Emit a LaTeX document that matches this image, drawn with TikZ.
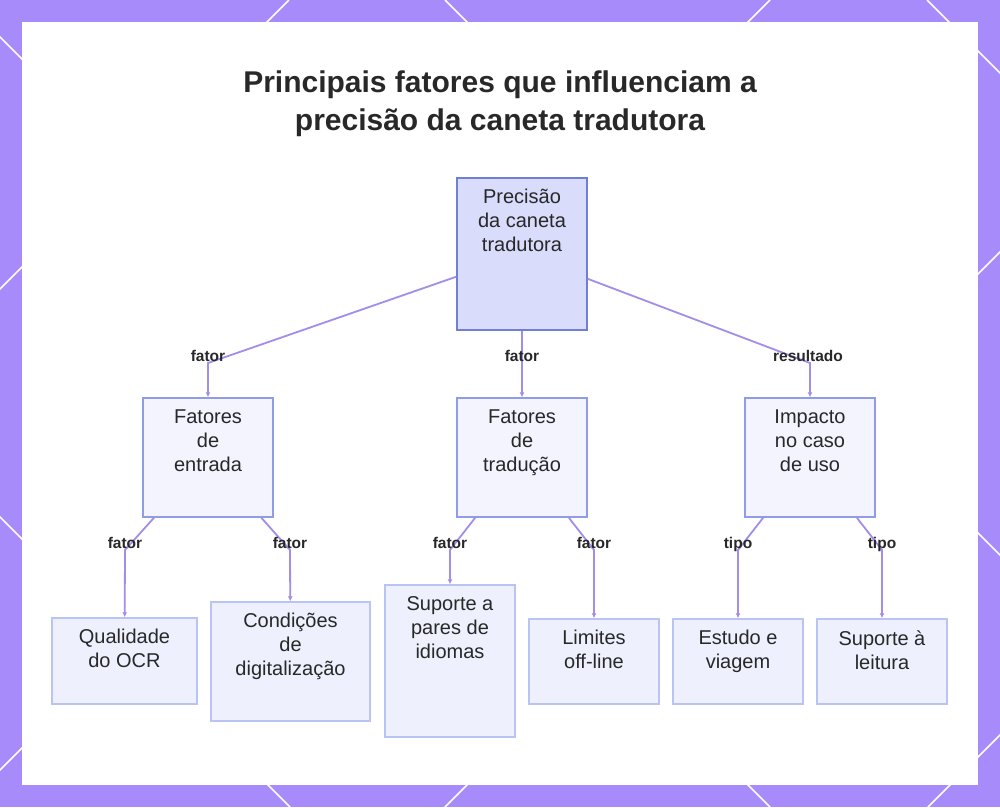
\documentclass[tikz,border=0pt]{standalone}
\usepackage{fontspec}
\setmainfont{Liberation Sans}
\usetikzlibrary{arrows.meta}

\definecolor{framepurple}{RGB}{167,139,250}
\definecolor{edgepurple}{RGB}{163,141,234}
\definecolor{rootfill}{RGB}{217,220,250}
\definecolor{rootdraw}{RGB}{112,127,214}
\definecolor{midfill}{RGB}{243,244,254}
\definecolor{middraw}{RGB}{143,157,232}
\definecolor{leaffill}{RGB}{238,241,253}
\definecolor{leafdraw}{RGB}{185,195,244}
\definecolor{ink}{RGB}{40,40,40}

\begin{document}
\begin{tikzpicture}[x=1pt,y=-1pt,>={Latex[length=5pt,width=5pt]},
  txt/.style={inner sep=0pt,align=center,text=ink,font=\fontsize{20}{24}\selectfont},
  rootbox/.style={rectangle,fill=rootfill,draw=rootdraw,line width=1.6pt,
    minimum width=130pt,minimum height=152pt},
  midbox/.style={rectangle,fill=midfill,draw=middraw,line width=1.5pt,
    minimum width=130pt,minimum height=119pt},
  leafbox/.style={rectangle,fill=leaffill,draw=leafdraw,line width=1.5pt,
    minimum width=130pt,minimum height=85pt},
  edge/.style={->,draw=edgepurple,line width=1.8pt},
  tag/.style={anchor=base,inner sep=0.5pt,text=ink,
    font=\fontsize{15.5}{18}\bfseries\selectfont}]
  \useasboundingbox (0,0) rectangle (1000,807);

  % frame with the white lattice
  \fill[framepurple] (0,0) rectangle (1000,807);
  \begin{scope}
    \clip (0,0) rectangle (1000,807);
    \foreach \c in {289,770,1252,1735}
      \draw[white,line width=1.6pt] (\c,0) -- (\c-807,807);
    \foreach \c in {-517,-37,445,927}
      \draw[white,line width=1.6pt] (\c,0) -- (\c+807,807);
  \end{scope}
  \fill[white] (22,22) rectangle (978,785);

  % title
  \node[align=center,text=ink,font=\fontsize{30}{38}\bfseries\selectfont] (title) at (500,104)
    {Principais fatores que influenciam a\\precisão da caneta tradutora};

  % boxes
  \node[rootbox,label={[txt,anchor=north,yshift=-12pt]north:Precisão\\da caneta\\tradutora}] (root) at (522,254) {};
  \node[midbox,label={[txt,anchor=north,yshift=-12pt]north:Fatores\\de\\entrada}] (entrada) at (208,457.5) {};
  \node[midbox,label={[txt,anchor=north,yshift=-12pt]north:Fatores\\de\\tradução}] (traducao) at (522,457.5) {};
  \node[midbox,label={[txt,anchor=north,yshift=-12pt]north:Impacto\\no caso\\de uso}] (impacto) at (810,457.5) {};

  \node[leafbox,minimum width=145pt,minimum height=86pt,
    label={[txt,anchor=north,yshift=-12pt]north:Qualidade\\do OCR}] (ocr) at (124.5,661) {};
  \node[leafbox,minimum width=159pt,minimum height=119pt,
    label={[txt,anchor=north,yshift=-12pt]north:Condições\\de\\digitalização}] (digital) at (290.5,661.5) {};
  \node[leafbox,minimum height=152pt,
    label={[txt,anchor=north,yshift=-12pt]north:Suporte a\\pares de\\idiomas}] (pares) at (450,661) {};
  \node[leafbox,label={[txt,anchor=north,yshift=-12pt]north:Limites\\off-line}] (limites) at (594,661.5) {};
  \node[leafbox,label={[txt,anchor=north,yshift=-12pt]north:Estudo e\\viagem}] (estudo) at (738,661.5) {};
  \node[leafbox,label={[txt,anchor=north,yshift=-12pt]north:Suporte à\\leitura}] (leitura) at (882,661.5) {};

  % first level
  \coordinate (k-entrada) at (208,363);
  \coordinate (k-impacto) at (810,363);
  \draw[edge] (root) -- (k-entrada) -- (entrada);
  \draw[edge] (root) -- (traducao);
  \draw[edge] (root) -- (k-impacto) -- (impacto);
  \node[tag] (t-entrada) at (208,361) {fator};
  \node[tag] (t-traducao) at (522,361) {fator};
  \node[tag] (t-impacto) at (808,361) {resultado};

  % second level
  \foreach \up/\down/\bx/\tg in {entrada/ocr/125/fator,entrada/digital/290/fator,
      traducao/pares/450/fator,traducao/limites/594/fator,
      impacto/estudo/738/tipo,impacto/leitura/882/tipo}{
    \coordinate (k-\down) at (\bx,550);
    \draw[edge] (\up) -- (k-\down) -- (\down);
    \node[tag] (t-\down) at (\bx,548) {\tg};
  }
\end{tikzpicture}
\end{document}
